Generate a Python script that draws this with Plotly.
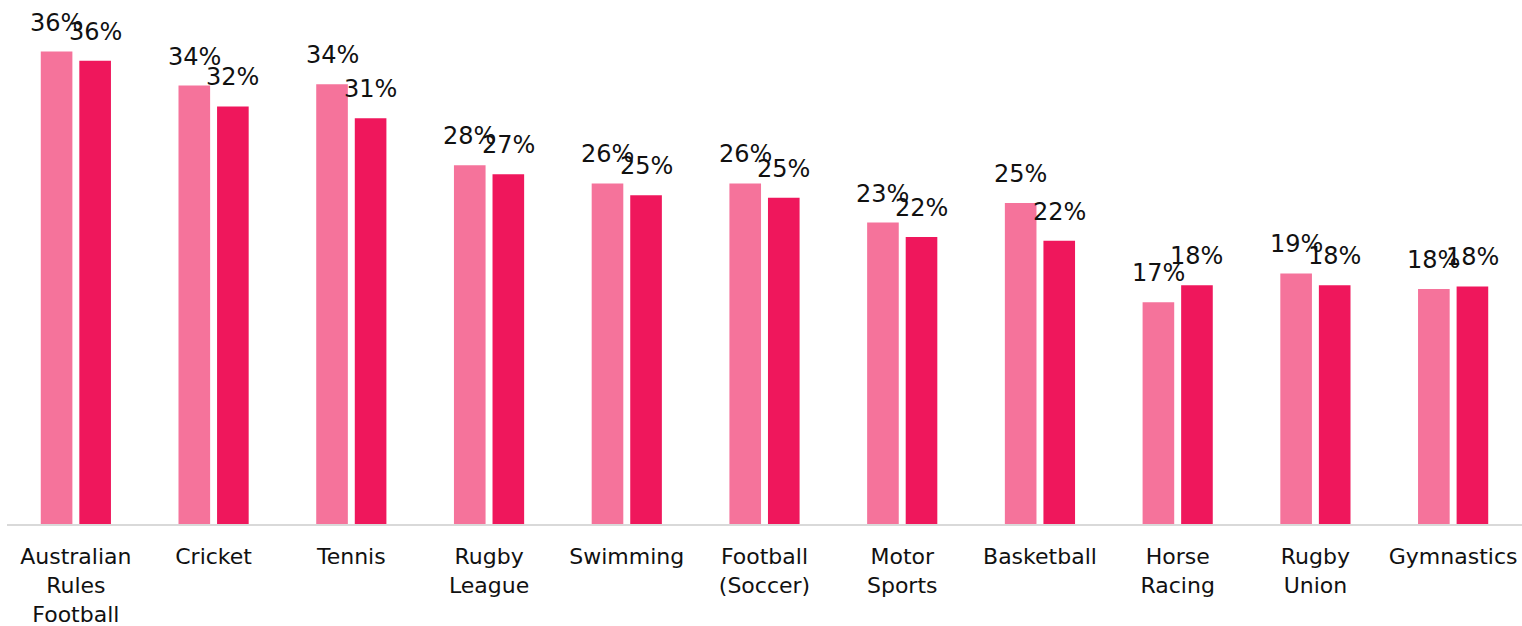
import plotly.graph_objects as go

categories = [
    "Australian<br>Rules<br>Football", "Cricket", "Tennis", "Rugby<br>League",
    "Swimming", "Football<br>(Soccer)", "Motor<br>Sports", "Basketball",
    "Horse<br>Racing", "Rugby<br>Union", "Gymnastics",
]
series_a = [36.2, 33.6, 33.7, 27.5, 26.1, 26.1, 23.1, 24.6, 17.0, 19.2, 18.0]
series_b = [35.5, 32.0, 31.1, 26.8, 25.2, 25.0, 22.0, 21.7, 18.3, 18.3, 18.2]

color_a = "#F5739B"
color_b = "#EF175C"
font_family = "DejaVu Sans, Open Sans, sans-serif"

BARGAP = 0.44
BARGROUPGAP = 0.18

fig = go.Figure()
for vals, col in [(series_a, color_a), (series_b, color_b)]:
    fig.add_trace(go.Bar(
        x=categories, y=vals, marker=dict(color=col, line=dict(width=0)),
        showlegend=False, hoverinfo="x+y",
    ))

# value labels above each bar, centred on the bar within its group
width_px = 1522 - 7
slot_px = width_px / len(categories) * (1 - BARGAP) / 2
for k, vals in enumerate([series_a, series_b]):
    shift = (k - 0.5) * slot_px
    for cat, v in zip(categories, vals):
        fig.add_annotation(
            x=cat, y=v, text=f"{v:.0f}%", showarrow=False,
            xanchor="center", yanchor="bottom", xshift=shift, yshift=13,
            font=dict(family=font_family, size=24, color="#111111"),
        )

fig.update_layout(
    width=1522, height=626,
    margin=dict(l=7, r=0, t=2, b=102),
    paper_bgcolor="white", plot_bgcolor="white",
    barmode="group", bargap=BARGAP, bargroupgap=BARGROUPGAP,
    xaxis=dict(
        showline=True, linecolor="#D9D9D9", linewidth=2,
        tickfont=dict(family=font_family, size=22, color="#111111"),
        ticks="", showgrid=False, ticklabelstandoff=12,
    ),
    yaxis=dict(range=[0, 40], visible=False, showgrid=False),
)

fig.write_html("out.html")
